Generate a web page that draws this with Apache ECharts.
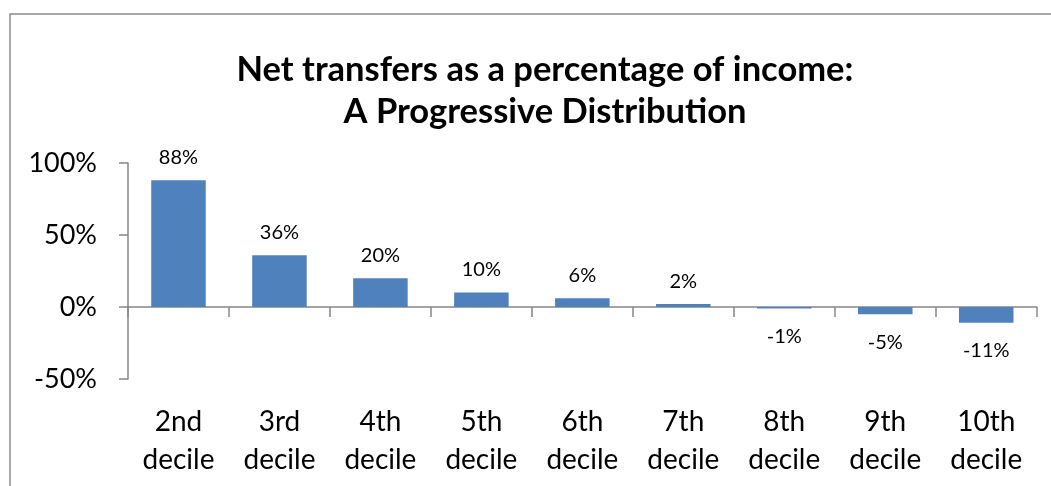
<!DOCTYPE html>
<html>
<head>
<meta charset="utf-8">
<script src="https://cdn.jsdelivr.net/npm/echarts@6/dist/echarts.min.js"></script>
<style>
  html, body { margin: 0; padding: 0; background: #fff; }
  #chart { width: 1051px; height: 486px; }
</style>
</head>
<body>
<div id="chart"></div>
<script>
// data
const categories = ['2nd\ndecile', '3rd\ndecile', '4th\ndecile', '5th\ndecile', '6th\ndecile',
                    '7th\ndecile', '8th\ndecile', '9th\ndecile', '10th\ndecile'];
const netTransfers = [88, 36, 20, 10, 6, 2, -1, -5, -11];
const yTicks = { min: -50, max: 100, interval: 50 };

const font = 'Lato, "Open Sans", sans-serif';

const chart = echarts.init(document.getElementById('chart'), null, { renderer: 'canvas' });

// positive labels sit above the bar, negative below
const barData = netTransfers.map(v => ({
  value: v,
  label: v < 0 ? { position: 'bottom', distance: 18 } : { position: 'top', distance: 13 }
}));

chart.setOption({
  animation: false,
  title: {
    text: 'Net transfers as a percentage of income:\nA Progressive Distribution',
    left: 540,
    top: 44,
    textAlign: 'center',
    textStyle: {
      fontFamily: font,
      fontSize: 34.5,
      fontWeight: 'bold',
      color: '#000',
      lineHeight: 42
    }
  },
  graphic: [{
    type: 'rect',
    shape: { x: 10, y: 14, width: 1100, height: 500 },
    style: { fill: 'none', stroke: '#8c8c8c', lineWidth: 1.5 },
    silent: true
  }],
  grid: { left: 128, right: 14.3, top: 163, bottom: 107, containLabel: false, outerBoundsMode: 'none' },
  xAxis: {
    type: 'category',
    data: categories,
    axisLine: { onZero: true, lineStyle: { color: '#868686', width: 1.5 } },
    axisTick: { show: true, length: 10, inside: false, lineStyle: { color: '#868686', width: 1.5 } },
    axisLabel: {
      margin: 24,
      fontFamily: font,
      fontSize: 28,
      color: '#000',
      lineHeight: 38
    },
    splitLine: { show: false }
  },
  yAxis: {
    type: 'value',
    min: yTicks.min,
    max: yTicks.max,
    interval: yTicks.interval,
    axisLine: { show: true, lineStyle: { color: '#868686', width: 1.5 } },
    axisTick: { show: true, length: 9, lineStyle: { color: '#868686', width: 1.5 } },
    axisLabel: {
      margin: 31,
      fontFamily: font,
      fontSize: 27,
      color: '#000',
      formatter: v => v + '%'
    },
    splitLine: { show: false }
  },
  series: [{
    type: 'bar',
    data: barData,
    barWidth: '54%',
    itemStyle: { color: '#4F81BD' },
    label: {
      show: true,
      fontFamily: font,
      fontSize: 20,
      color: '#000',
      formatter: p => p.value + '%'
    }
  }]
});
</script>
</body>
</html>
